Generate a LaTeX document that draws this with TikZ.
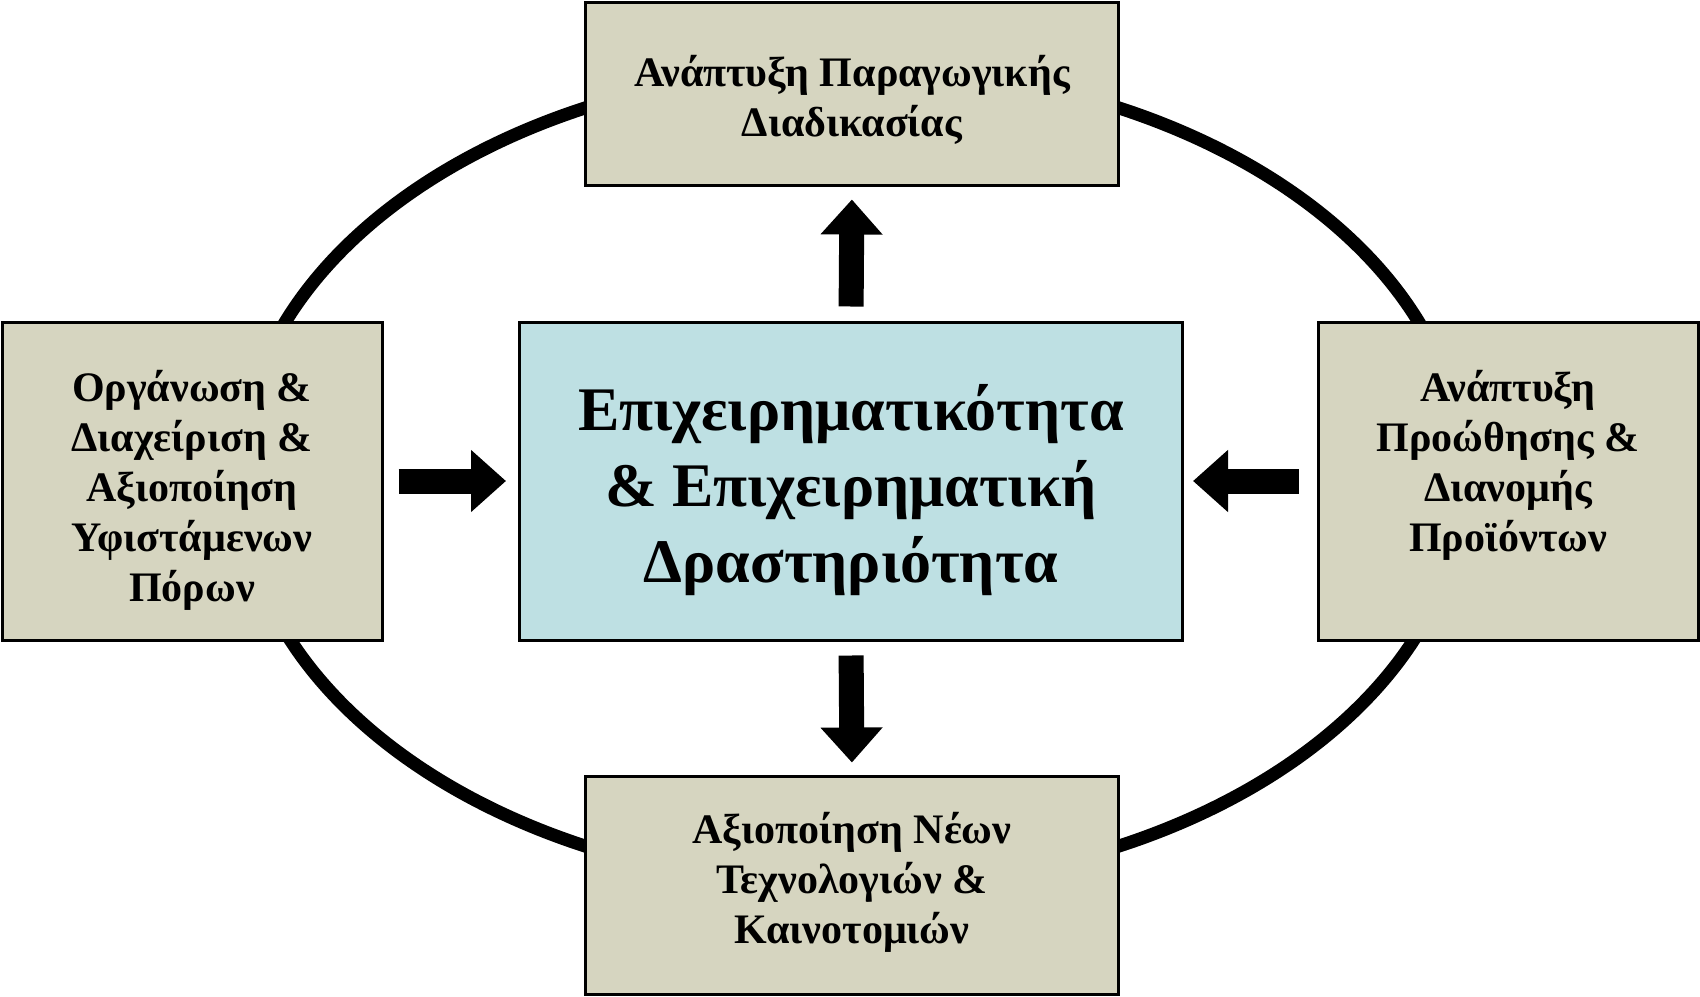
\documentclass[tikz,border=0pt]{standalone}
\usepackage{fontspec}
\setmainfont{Liberation Serif}
\usetikzlibrary{arrows.meta}
\definecolor{boxfill}{HTML}{D6D5C0}
\definecolor{centerfill}{HTML}{BEE0E3}
\tikzset{
  outerbox/.style={draw=black, line width=3pt, fill=boxfill, inner sep=0pt},
  outertext/.style={align=center, inner sep=0pt, font=\bfseries\fontsize{42}{50}\selectfont},
  centerbox/.style={draw=black, line width=3pt, fill=centerfill, inner sep=0pt,
    minimum width=663pt, minimum height=318pt},
  centertext/.style={align=center, inner sep=0pt, font=\bfseries\fontsize{62}{76}\selectfont},
  bigarrow/.style={line width=25pt, -{Triangle[width=60pt,length=35pt]}, black},
  ring/.style={line width=13pt, black}
}
\begin{document}
\begin{tikzpicture}[x=1pt,y=-1pt]
\useasboundingbox (0,0) rectangle (1700,996);
\draw[ring] (852,477) ellipse [x radius=612pt, y radius=410pt];
\node[outerbox, minimum width=533pt, minimum height=183pt,
  label={[outertext, yshift=-6pt]center:Ανάπτυξη Παραγωγικής\\Διαδικασίας}] (top) at (852,93.5) {};
\node[outerbox, minimum width=380pt, minimum height=318pt,
  label={[outertext, yshift=-9pt]center:Οργάνωση \&\\Διαχείριση \&\\Αξιοποίηση\\Υφιστάμενων\\Πόρων}] (left) at (192,481) {};
\node[centerbox,
  label={[centertext, yshift=-9pt]center:Επιχειρηματικότητα\\\& Επιχειρηματική\\Δραστηριότητα}] (center) at (851,481) {};
\node[outerbox, minimum width=380pt, minimum height=318pt,
  label={[outertext, yshift=16pt]center:Ανάπτυξη\\Προώθησης \&\\Διανομής\\Προϊόντων}] (right) at (1508,481) {};
\node[outerbox, minimum width=533pt, minimum height=218pt,
  label={[outertext, yshift=3pt]center:Αξιοποίηση Νέων\\Τεχνολογιών \&\\Καινοτομιών}] (bottom) at (852,885) {};
\draw[bigarrow, shorten <=14pt, shorten >=13pt] (center.north) -- (top.south);
\draw[bigarrow, shorten <=14pt, shorten >=12pt] (center.south) -- (bottom.north);
\draw[bigarrow, shorten <=15pt, shorten >=12pt] (left.east) -- (center.west);
\draw[bigarrow, shorten <=18pt, shorten >=9pt] (right.west) -- (center.east);
\end{tikzpicture}
\end{document}
